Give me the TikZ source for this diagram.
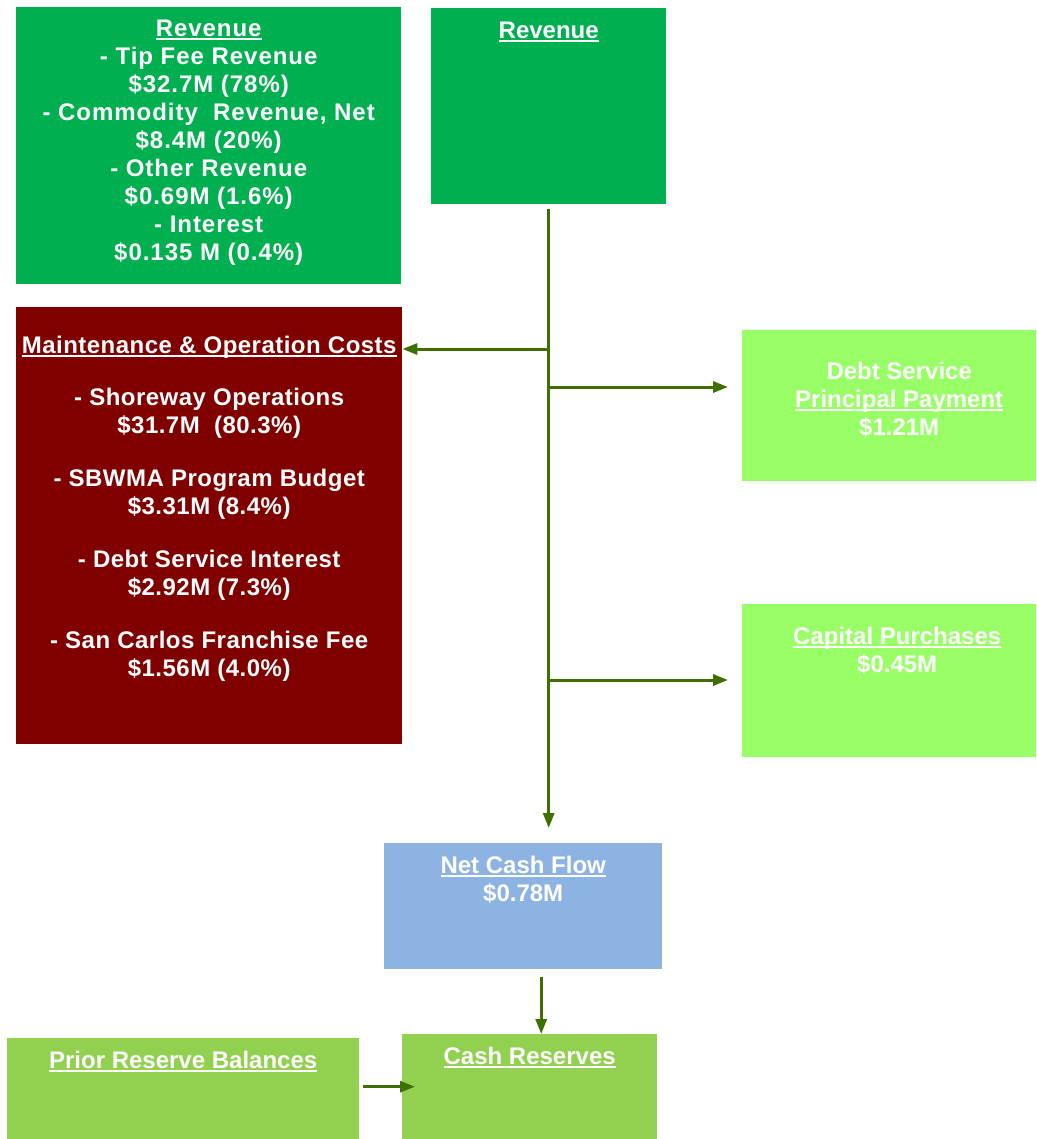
\documentclass[tikz,border=0pt]{standalone}
\usepackage{fontspec}
\setmainfont{Liberation Sans}
\usetikzlibrary{positioning,arrows.meta}
\definecolor{revgreen}{RGB}{0,176,80}
\definecolor{costred}{RGB}{128,0,0}
\definecolor{paygreen}{RGB}{153,255,102}
\definecolor{flowblue}{RGB}{141,179,226}
\definecolor{resgreen}{RGB}{146,208,80}
\definecolor{linegreen}{RGB}{63,111,0}
\newcommand{\ulbar}[1]{\setbox0\hbox{#1}\rlap{\copy0}\rule[-3pt]{\wd0}{2pt}}
\begin{document}
\begin{tikzpicture}[x=1pt, y=-1pt,
    box/.style={fill=#1, draw=none, anchor=north west, inner sep=0pt},
    txt/.style={text=white, font=\fontsize{24}{28}\selectfont\bfseries, align=center, inner sep=0pt},
    wide/.style={font=\fontsize{24}{28}\selectfont\bfseries\addfontfeature{LetterSpace=#1}},
    flow/.style={draw=linegreen, line width=3pt, -{Triangle[length=15pt,width=11pt]}}]
  \useasboundingbox (0,0) rectangle (1036,1139);
  % boxes
  \node[box=revgreen, minimum width=385pt, minimum height=277pt] (revlist) at (16,7) {};
  \node[box=revgreen, minimum width=235pt, minimum height=196pt] (rev) at (431,8) {};
  \node[box=costred, minimum width=386pt, minimum height=437pt] (costs) at (16,307) {};
  \node[box=paygreen, minimum width=294pt, minimum height=151pt] (debt) at (742,330) {};
  \node[box=paygreen, minimum width=294pt, minimum height=153pt] (capital) at (742,604) {};
  \node[box=flowblue, minimum width=278pt, minimum height=126pt] (net) at (384,843) {};
  \node[box=resgreen, minimum width=255pt, minimum height=105pt] (cash) at (402,1034) {};
  \node[box=resgreen, minimum width=352pt, minimum height=101pt] (prior) at (7,1038) {};
  % texts
  \node[txt, wide=4, below=13pt of revlist.north] (revlisttxt) {\ulbar{Revenue}\\- Tip Fee Revenue\\\$32.7M (78\%)\\- Commodity\ \ Revenue, Net\\\$8.4M (20\%)\\- Other Revenue\\\$0.69M (1.6\%)\\- Interest\\\$0.135 M (0.4\%)};
  \node[txt, below=14pt of rev.north] (revtxt) {\ulbar{Revenue}};
  \node[txt, wide=2, below=29pt of costs.north] (coststxt) {\ulbar{Maintenance \& Operation Costs}\\[24pt]- Shoreway Operations\\\$31.7M\ \ (80.3\%)\\[25pt]- SBWMA Program Budget\\\$3.31M (8.4\%)\\[25pt]- Debt Service Interest\\\$2.92M (7.3\%)\\[25pt]- San Carlos Franchise Fee\\\$1.56M (4.0\%)};
  \node[txt, below=32pt of debt.north, xshift=10pt] (debttxt) {Debt Service\\\ulbar{Principal Payment}\\\$1.21M};
  \node[txt, below=23pt of capital.north, xshift=8pt] (capitaltxt) {\ulbar{Capital Purchases}\\\$0.45M};
  \node[txt, below=13pt of net.north] (nettxt) {\ulbar{Net Cash Flow}\\\$0.78M};
  \node[txt, below=13pt of cash.north] (cashtxt) {\ulbar{Cash Reserves}};
  \node[txt, below=13pt of prior.north] (priortxt) {\ulbar{Prior Reserve Balances}};
  % flows
  \coordinate (split1) at (549,349);
  \coordinate (split2) at (549,387);
  \coordinate (split3) at (549,680);
  \draw[flow] ([yshift=-5pt]rev.south) -- ([yshift=15pt]rev.south |- net.north);
  \draw[flow] (split1) -- (split1 -| costs.east);
  \draw[flow] (split2) -- ([xshift=-14pt]split2 -| debt.west);
  \draw[flow] (split3) -- ([xshift=-14pt]split3 -| capital.west);
  \draw[flow] ([xshift=18pt,yshift=-8pt]net.south) -- ([xshift=18pt]net.south |- cash.north);
  \draw[flow] ([xshift=4pt,yshift=2pt]prior.east) -- ([xshift=13pt,yshift=2pt]prior.east -| cash.west);
\end{tikzpicture}
\end{document}
